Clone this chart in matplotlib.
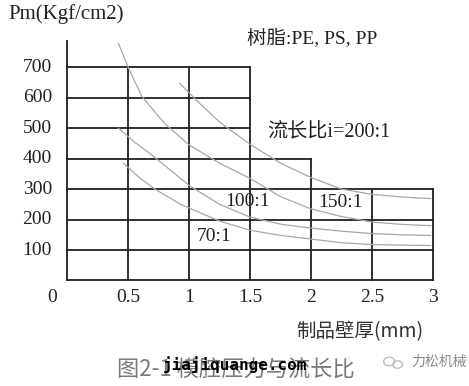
import numpy as np
import matplotlib.pyplot as plt
from matplotlib.patches import Ellipse

# Tick values
y_ticks = [100, 200, 300, 400, 500, 600, 700]
x_ticks = [0.5, 1, 1.5, 2, 2.5, 3]
x_tick_labels = ['0.5', '1', '1.5', '2', '2.5', '3']

# Staircase grid: right end of each horizontal line, top of each vertical line
h_levels = [0, 100, 200, 300, 400, 500, 600, 700]
h_right = [3, 3, 3, 3, 2, 1.5, 1.5, 1.5]
v_pos = [0.5, 1, 1.5, 2, 2.5, 3]
v_top = [700, 700, 700, 400, 300, 300]
y_axis_top = 788

# Pressure curves (x = wall thickness mm, y = Pm)
x_200 = [0.92, 1.09, 1.25, 1.5, 1.75, 2.0, 2.25, 2.5, 2.75, 2.98]
y_200 = [648, 580, 520, 447, 385, 338, 300, 283, 274, 269]

x_150 = [0.42, 0.5, 0.61, 0.8, 1.0, 1.25, 1.5, 1.75, 2.0, 2.25, 2.5, 2.75, 2.98]
y_150 = [778, 700, 605, 515, 445, 385, 335, 275, 235, 210, 192, 184, 180]

x_100 = [0.42, 0.55, 0.7, 1.0, 1.25, 1.5, 1.75, 2.0, 2.25, 2.5, 2.75, 2.98]
y_100 = [500, 455, 410, 312, 250, 208, 185, 172, 162, 154, 150, 148]

x_70 = [0.46, 0.6, 0.72, 0.93, 1.0, 1.25, 1.5, 1.75, 2.0, 2.25, 2.5, 2.75, 2.98]
y_70 = [385, 335, 300, 250, 238, 195, 165, 148, 136, 124, 118, 116, 115]

serif = ['Liberation Serif', 'Noto Sans CJK SC']
cjk = ['Noto Sans CJK SC', 'DejaVu Sans']

fig = plt.figure(figsize=(4.69, 3.86), dpi=100)
ax = fig.add_axes([0, 0, 1, 1])
ax.set_xlim(-0.552, 3.295)
ax.set_ylim(-346.5, 921.2)
ax.axis('off')

grid_kw = dict(color='#202020', lw=1.3)
for lvl, right in zip(h_levels, h_right):
    ax.plot([0, right], [lvl, lvl], **grid_kw)
for xv, top in zip(v_pos, v_top):
    ax.plot([xv, xv], [0, top], **grid_kw)
ax.plot([0, 0], [0, y_axis_top], **grid_kw)

curve_kw = dict(color='#a8a8a8', lw=0.9)
for xs, ys in [(x_200, y_200), (x_150, y_150), (x_100, y_100), (x_70, y_70)]:
    ax.plot(xs, ys, **curve_kw)

# tick labels
for v in y_ticks:
    ax.text(-0.126, v, str(v), ha='right', va='center', fontsize=14, family=serif, color='#222')
ax.text(-0.126, -57, '0', ha='center', va='center', fontsize=14, family=serif, color='#222')
for v, lab in zip(x_ticks, x_tick_labels):
    ax.text(v, -57, lab, ha='center', va='center', fontsize=14, family=serif, color='#222')

ax.text(-0.486, 875, 'Pm(Kgf/cm2)', ha='left', va='center', fontsize=15, family=serif, color='#222')
ax.text(1.475, 796, '树脂:PE, PS, PP', ha='left', va='center', fontsize=14, family=serif, color='#222')
ax.text(1.64, 484, '流长比i=200:1', ha='left', va='center', fontsize=14.5, family=serif, color='#222')
ax.text(1.295, 258, '100:1', ha='left', va='center', fontsize=14, family=serif, color='#222')
ax.text(1.064, 143, '70:1', ha='left', va='center', fontsize=14, family=serif, color='#222')
ax.text(2.056, 255, '150:1', ha='left', va='center', fontsize=14, family=serif, color='#222')
ax.text(1.876, -169, '制品壁厚(mm)', ha='left', va='center', fontsize=14, family=cjk, color='#333')

ax.text(0.408, -294, '图2-1 模腔压力与流长比', ha='left', va='center', fontsize=16, family=cjk, color='#7a7a7a')
ax.text(0.787, -277, 'jiajiquange.com', ha='left', va='center', fontsize=11.5,
        family='DejaVu Sans Mono', fontweight='bold', color='black')

# small logo + watermark text
ax.add_patch(Ellipse((2.64, -266), 0.09, 28, fill=False, ec='#bbbbbb', lw=1))
ax.add_patch(Ellipse((2.71, -276), 0.08, 24, fill=False, ec='#bbbbbb', lw=1))
ax.text(2.82, -268, '力松机械', ha='left', va='center', fontsize=10, family=cjk, color='#8a8a8a')

fig.savefig('out.png', dpi=100)
